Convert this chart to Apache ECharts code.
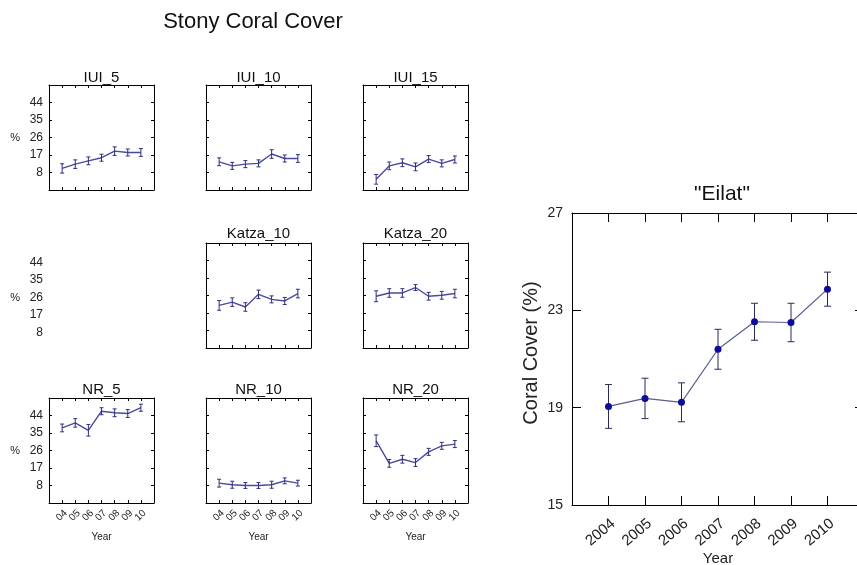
<!DOCTYPE html>
<html>
<head>
<meta charset="utf-8">
<script src="https://cdn.jsdelivr.net/npm/echarts@6/dist/echarts.min.js"></script>
<style>
  html, body { margin: 0; padding: 0; background: #fff; }
  #c { width: 857px; height: 565px; }
</style>
</head>
<body>
<div id="c"></div>
<script>
// Survey years
const years = [2004, 2005, 2006, 2007, 2008, 2009, 2010];

// Small-multiple site means and half error bars (% cover)
const iui5Mean   = [10.1, 12.3, 14.0, 15.6, 19.0, 18.3, 18.3];
const iui5Err    = [2.4, 2.2, 2.0, 1.8, 2.2, 1.8, 2.0];
const iui10Mean  = [13.5, 11.4, 12.3, 12.7, 17.5, 15.2, 15.2];
const iui10Err   = [2.0, 1.8, 1.8, 1.8, 2.2, 1.8, 2.0];
const iui15Mean  = [4.5, 11.4, 13.0, 10.9, 14.9, 12.7, 14.7];
const iui15Err   = [2.5, 2.0, 2.0, 2.0, 1.8, 1.8, 1.8];
const katza10Mean = [20.9, 22.6, 20.1, 26.6, 24.0, 23.2, 27.0];
const katza10Err  = [2.5, 2.2, 2.2, 2.2, 1.8, 1.8, 2.2];
const katza20Mean = [25.6, 27.3, 27.3, 30.1, 25.6, 26.1, 27.0];
const katza20Err  = [2.8, 2.2, 2.2, 1.5, 2.0, 2.0, 2.2];
const nr5Mean    = [37.6, 40.2, 36.4, 46.2, 45.4, 45.0, 48.0];
const nr5Err     = [2.0, 2.2, 3.0, 1.8, 2.0, 2.0, 1.8];
const nr10Mean   = [9.2, 8.4, 8.0, 8.0, 8.4, 10.4, 9.2];
const nr10Err    = [2.0, 1.8, 1.5, 1.5, 1.8, 1.5, 1.5];
const nr20Mean   = [31.0, 19.4, 21.5, 19.8, 25.3, 28.4, 29.3];
const nr20Err    = [3.0, 2.0, 2.0, 2.0, 1.8, 1.8, 1.8];

// Small-panel y ticks
const smallTicks  = [-1, 8, 17, 26, 35, 44, 53];
const smallLabels = [8, 17, 26, 35, 44];

// Eilat overall means and half error bars
const eilatMean = [19.05, 19.38, 19.22, 21.40, 22.53, 22.50, 23.87];
const eilatErr  = [0.90, 0.83, 0.80, 0.82, 0.76, 0.79, 0.70];
const eilatTicks = [15, 19, 23, 27];

// Panel layout
const colLeft = [49, 206, 363];
const rowTop = [85, 243, 398];
const titleLift = [15, 17, 16];
const PW = 105, PH = 105;

const panels = [
  { name: 'IUI_5',    mean: iui5Mean,    err: iui5Err,    col: 0, row: 0 },
  { name: 'IUI_10',   mean: iui10Mean,   err: iui10Err,   col: 1, row: 0 },
  { name: 'IUI_15',   mean: iui15Mean,   err: iui15Err,   col: 2, row: 0 },
  { name: 'Katza_10', mean: katza10Mean, err: katza10Err, col: 1, row: 1 },
  { name: 'Katza_20', mean: katza20Mean, err: katza20Err, col: 2, row: 1 },
  { name: 'NR_5',     mean: nr5Mean,     err: nr5Err,     col: 0, row: 2 },
  { name: 'NR_10',    mean: nr10Mean,    err: nr10Err,    col: 1, row: 2 },
  { name: 'NR_20',    mean: nr20Mean,    err: nr20Err,    col: 2, row: 2 }
];

const FONT = 'Liberation Sans, Arial, sans-serif';
const smallLine = '#4a4aa0';
const grids = [], xAxes = [], yAxes = [], series = [], titles = [];

titles.push({
  text: 'Stony Coral Cover', left: 253, top: 11, textAlign: 'center', padding: 0,
  textStyle: { fontFamily: FONT, fontSize: 22, fontWeight: 'normal', color: '#111' }
});

// Vertical error bar with end caps, placed via the axis scales
function errRender(capHalf, color) {
  return function (params, api) {
    const x = api.value(0);
    const lo = api.coord([x, api.value(1)]);
    const hi = api.coord([x, api.value(2)]);
    const style = { stroke: color, lineWidth: 1 };
    return {
      type: 'group',
      children: [
        { type: 'line', shape: { x1: lo[0], y1: lo[1], x2: hi[0], y2: hi[1] }, style },
        { type: 'line', shape: { x1: lo[0] - capHalf, y1: lo[1], x2: lo[0] + capHalf, y2: lo[1] }, style },
        { type: 'line', shape: { x1: hi[0] - capHalf, y1: hi[1], x2: hi[0] + capHalf, y2: hi[1] }, style }
      ]
    };
  };
}

function frameAxisX(gi, pos, opts) {
  return Object.assign({
    type: 'value', gridIndex: gi, position: pos, min: 2003, max: 2011, interval: 1,
    axisLine: { show: true, onZero: false, lineStyle: { color: '#000', width: 1 } },
    axisTick: { show: true, inside: true, length: 3, lineStyle: { color: '#000' } },
    axisLabel: { show: false },
    splitLine: { show: false }
  }, opts || {});
}

function frameAxisY(gi, pos, ticks, labels, opts) {
  return Object.assign({
    type: 'value', gridIndex: gi, position: pos, min: ticks[0], max: ticks[ticks.length - 1],
    axisLine: { show: true, onZero: false, lineStyle: { color: '#000', width: 1 } },
    axisTick: { show: true, inside: true, length: 3, customValues: ticks, lineStyle: { color: '#000' } },
    axisLabel: { show: false, customValues: labels },
    splitLine: { show: false }
  }, opts || {});
}

const yLabelStyle = { show: true, fontFamily: FONT, fontSize: 12, color: '#222', margin: 6 };
const yNameStyle = {
  name: '%', nameLocation: 'middle', nameGap: 29, nameRotate: 0,
  nameTextStyle: { fontFamily: FONT, fontSize: 11, color: '#222' }
};

panels.forEach(p => {
  const gi = grids.length;
  const left = colLeft[p.col], top = rowTop[p.row];
  grids.push({ left: left, top: top, width: PW, height: PH, outerBoundsMode: 'none', containLabel: false });
  const bottomRow = p.row === 2;

  titles.push({
    text: p.name, left: left + PW / 2, top: top - titleLift[p.row], textAlign: 'center', padding: 0,
    textStyle: { fontFamily: FONT, fontSize: 15, fontWeight: 'normal', color: '#111' }
  });

  const xb = xAxes.length;
  xAxes.push(frameAxisX(gi, 'bottom', bottomRow ? {
    axisLabel: {
      show: true, rotate: 45, fontFamily: FONT, fontSize: 10, color: '#222', margin: 5,
      verticalAlign: 'top',
      formatter: v => (v < 2004 || v > 2010) ? '' : String(v).slice(2)
    },
    name: 'Year', nameLocation: 'middle', nameGap: 29, nameMoveOverlap: false,
    nameTextStyle: { fontFamily: FONT, fontSize: 10, color: '#222' }
  } : {}));
  xAxes.push(frameAxisX(gi, 'top'));

  const yl = yAxes.length;
  yAxes.push(frameAxisY(gi, 'left', smallTicks, smallLabels,
    p.col === 0 ? Object.assign({ axisLabel: Object.assign({ customValues: smallLabels }, yLabelStyle) }, yNameStyle) : {}));
  yAxes.push(frameAxisY(gi, 'right', smallTicks, smallLabels));

  series.push({
    type: 'line', xAxisIndex: xb, yAxisIndex: yl,
    data: years.map((y, i) => [y, p.mean[i]]),
    showSymbol: false, symbol: 'none',
    lineStyle: { color: smallLine, width: 1.4 }, silent: true, z: 3
  });
  series.push({
    type: 'custom', xAxisIndex: xb, yAxisIndex: yl,
    renderItem: errRender(2, '#2e2e80'),
    data: years.map((y, i) => [y, p.mean[i] - p.err[i], p.mean[i] + p.err[i]]),
    silent: true, z: 4
  });
});

// Tick labels for the empty first cell of the middle row
(function () {
  const gi = grids.length;
  grids.push({ left: colLeft[0], top: rowTop[1] + 2, width: PW, height: PH, outerBoundsMode: 'none', containLabel: false });
  xAxes.push({ type: 'value', gridIndex: gi, min: 2003, max: 2011, show: false });
  yAxes.push(Object.assign({
    type: 'value', gridIndex: gi, position: 'left', min: smallTicks[0], max: smallTicks[smallTicks.length - 1],
    axisLine: { show: false }, axisTick: { show: false },
    axisLabel: Object.assign({ customValues: smallLabels }, yLabelStyle),
    splitLine: { show: false }
  }, yNameStyle));
})();

// Eilat summary panel
(function () {
  const gi = grids.length;
  grids.push({ left: 572, top: 213, width: 292, height: 292, outerBoundsMode: 'none', containLabel: false });
  titles.push({
    text: '"Eilat"', left: 722, top: 184, textAlign: 'center', padding: 0,
    textStyle: { fontFamily: FONT, fontSize: 21, fontWeight: 'normal', color: '#111' }
  });
  const bigTick = { show: true, inside: true, length: 9, lineStyle: { color: '#000' } };
  const xb = xAxes.length;
  xAxes.push(frameAxisX(gi, 'bottom', {
    axisTick: bigTick,
    axisLabel: {
      show: true, rotate: 40, fontFamily: FONT, fontSize: 15, color: '#222', margin: 11,
      verticalAlign: 'top',
      formatter: v => (v < 2004 || v > 2010) ? '' : String(v)
    },
    name: 'Year', nameLocation: 'middle', nameGap: 46, nameMoveOverlap: false,
    nameTextStyle: { fontFamily: FONT, fontSize: 15, color: '#222' }
  }));
  xAxes.push(frameAxisX(gi, 'top', { axisTick: bigTick }));
  const yl = yAxes.length;
  yAxes.push(frameAxisY(gi, 'left', eilatTicks, eilatTicks, {
    axisTick: Object.assign({ customValues: eilatTicks }, bigTick),
    axisLabel: { show: true, customValues: eilatTicks, fontFamily: FONT, fontSize: 14, color: '#222', margin: 9 },
    name: 'Coral Cover (%)', nameLocation: 'middle', nameGap: 31,
    nameTextStyle: { fontFamily: FONT, fontSize: 20, color: '#222', padding: [0, 0, 0, 12] }
  }));
  yAxes.push(frameAxisY(gi, 'right', eilatTicks, eilatTicks, {
    axisTick: Object.assign({ customValues: eilatTicks }, bigTick)
  }));
  series.push({
    type: 'line', xAxisIndex: xb, yAxisIndex: yl,
    data: years.map((y, i) => [y, eilatMean[i]]),
    symbol: 'circle', symbolSize: 7,
    itemStyle: { color: '#0c0c9e' },
    lineStyle: { color: '#5c5c8e', width: 1.2 }, silent: true, z: 3
  });
  series.push({
    type: 'custom', xAxisIndex: xb, yAxisIndex: yl,
    renderItem: errRender(3.5, '#2a2a5a'),
    data: years.map((y, i) => [y, eilatMean[i] - eilatErr[i], eilatMean[i] + eilatErr[i]]),
    silent: true, z: 2
  });
})();

const chart = echarts.init(document.getElementById('c'));
chart.setOption({
  backgroundColor: '#fff',
  animation: false,
  title: titles,
  grid: grids,
  xAxis: xAxes,
  yAxis: yAxes,
  series: series
});
</script>
</body>
</html>
